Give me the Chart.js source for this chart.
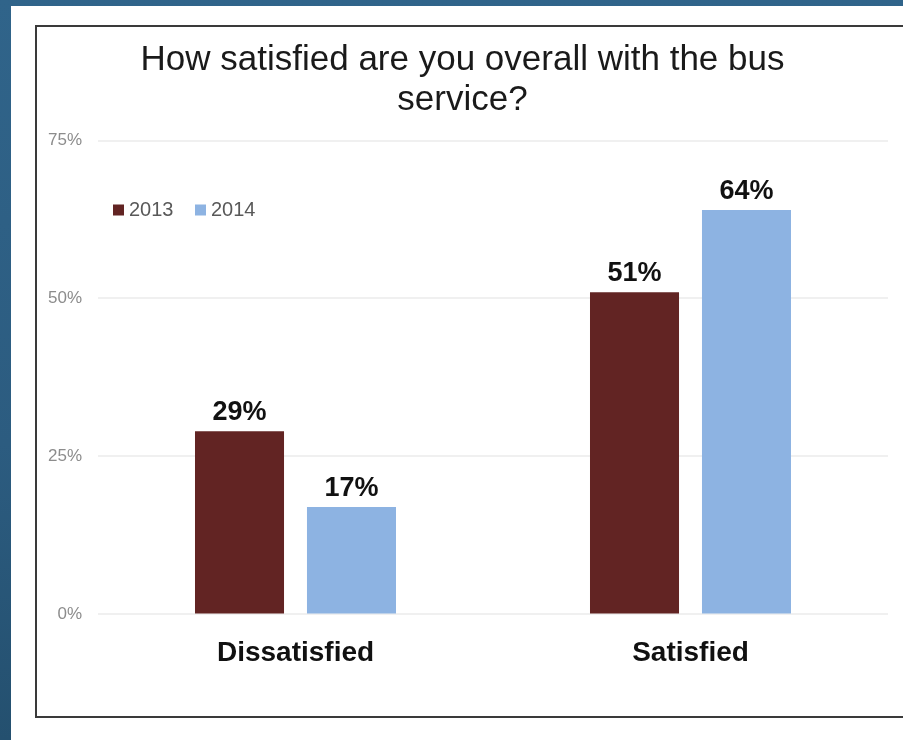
<!DOCTYPE html>
<html>
<head>
<meta charset="utf-8">
<script src="https://cdn.jsdelivr.net/npm/chart.js@4.4.1/dist/chart.umd.min.js"></script>
<style>
  html, body { margin: 0; padding: 0; }
  body {
    width: 903px; height: 740px; overflow: hidden;
    background: linear-gradient(180deg, #30648a 0%, #2c5c80 60%, #24506f 100%);
    position: relative;
  }
  #sheet {
    position: absolute; left: 11px; top: 6px; width: 900px; height: 740px;
    background: #fff;
  }
  #frame {
    position: absolute; left: 35px; top: 25px; width: 900px; height: 689px;
    border: 2px solid #3a3a3a; background: #fff;
  }
  #wrap {
    position: absolute; left: 37px; top: 27px; width: 868px; height: 688px;
  }
</style>
</head>
<body>
<div id="sheet"></div>
<div id="frame"></div>
<div id="wrap"><canvas id="busChart"></canvas></div>
<script>
const categories = ['Dissatisfied', 'Satisfied'];
const years = ['2013', '2014'];
const series2013 = [29, 51];
const series2014 = [17, 64];
const yTicks = [0, 25, 50, 75];
const colors = ['#622423', '#8db3e2'];

const FONT = "'Liberation Sans', Arial, sans-serif";

// value labels above each bar
const barLabels = {
  id: 'barLabels',
  afterDatasetsDraw(chart) {
    const ctx = chart.ctx;
    ctx.save();
    ctx.font = 'bold 27px ' + FONT;
    ctx.fillStyle = '#111';
    ctx.textAlign = 'center';
    ctx.textBaseline = 'alphabetic';
    chart.data.datasets.forEach((ds, i) => {
      chart.getDatasetMeta(i).data.forEach((bar, j) => {
        ctx.fillText(ds.data[j] + '%', bar.x, bar.y - 11);
      });
    });
    ctx.restore();
  }
};

// small legend sitting inside the plot, top left
const innerLegend = {
  id: 'innerLegend',
  afterDraw(chart) {
    const ctx = chart.ctx;
    const area = chart.chartArea;
    let x = area.left + 15;
    const top = area.top + 64;
    ctx.save();
    ctx.font = '20px ' + FONT;
    ctx.textBaseline = 'alphabetic';
    ctx.textAlign = 'left';
    chart.data.datasets.forEach(ds => {
      ctx.fillStyle = ds.backgroundColor;
      ctx.fillRect(x, top, 11, 11);
      ctx.fillStyle = '#595959';
      ctx.fillText(ds.label, x + 16, top + 11);
      x += 82;
    });
    ctx.restore();
  }
};

new Chart(document.getElementById('busChart'), {
  type: 'bar',
  data: {
    labels: categories,
    datasets: [
      { label: years[0], data: series2013, backgroundColor: colors[0] },
      { label: years[1], data: series2014, backgroundColor: colors[1] }
    ]
  },
  options: {
    responsive: true,
    maintainAspectRatio: false,
    animation: false,
    categoryPercentage: 0.567,
    barPercentage: 0.795,
    layout: { padding: { left: 0, right: 17, top: 0, bottom: 31 } },
    plugins: {
      legend: { display: false },
      tooltip: { enabled: false },
      title: {
        display: true,
        text: ['How satisfied are you overall with the bus', 'service?'],
        color: '#1a1a1a',
        font: { family: FONT, size: 35, weight: 'normal', lineHeight: 1.15 },
        padding: { top: 13, bottom: 20 }
      }
    },
    scales: {
      x: {
        grid: { display: false },
        border: { display: false },
        ticks: {
          color: '#111',
          padding: 14,
          font: { family: FONT, size: 28, weight: 'bold' }
        }
      },
      y: {
        min: 0,
        max: 75,
        afterFit(scale) { scale.width = 61; },
        afterBuildTicks(scale) { scale.ticks = yTicks.map(v => ({ value: v })); },
        grid: { color: '#f0f0f0', lineWidth: 2, drawTicks: false },
        border: { display: false },
        ticks: {
          color: '#8c8c8c',
          padding: 16,
          font: { family: FONT, size: 17 },
          callback: v => v + '%'
        }
      }
    }
  },
  plugins: [barLabels, innerLegend]
});
</script>
</body>
</html>
